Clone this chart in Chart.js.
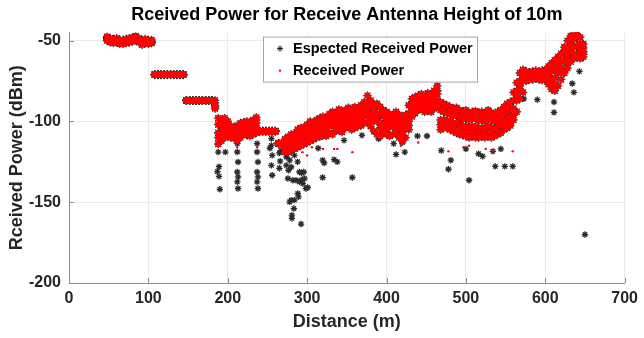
<!DOCTYPE html>
<html>
<head>
<meta charset="utf-8">
<script src="https://cdn.jsdelivr.net/npm/chart.js@4"></script>
<style>
  html, body { margin: 0; padding: 0; background: #ffffff; }
  #wrap { width: 644px; height: 338px; }
</style>
</head>
<body>
<div id="wrap"><canvas id="c" width="644" height="338"></canvas></div>
<script>
// ---------------- DATA ----------------
const chartTitle = 'Rceived Power for Receive Antenna Height of 10m';
const xTitle = 'Distance (m)';
const yTitle = 'Rceived Power (dBm)';
const seriesNames = ['Espected Received Power', 'Received Power'];
const xTickValues = [0, 100, 200, 300, 400, 500, 600, 700];
const yTickValues = [-200, -150, -100, -50];

// measurement distances (m) of the dense band
const dist = [
  48,52,56,60,64,68,72,76,80,84,
  88,92,96,100,104,108,112,116,120,124,
  128,132,136,140,144,148,152,156,160,164,
  168,172,176,180,184,188,192,196,200,204,
  208,212,216,220,224,228,232,236,240,244,
  248,252,256,260,264,268,272,276,280,284,
  288,292,296,300,304,308,312,316,320,324,
  328,332,336,340,344,348,352,356,360,364,
  368,372,376,380,384,388,392,396,400,404,
  408,412,416,420,424,428,432,436,440,444,
  448,452,456,460,464,468,472,476,480,484,
  488,492,496,500,504,508,512,516,520,524,
  528,532,536,540,544,548,552,556,560,564,
  568,572,576,580,584,588,592,596,600,604,
  608,612,616,620,624,628,632,636,640,644,
  648
];
// band samples (dBm), read across the band at each distance
const bandA = [
  -47.5,-48.5,-49,-48.5,-49.5,-49.5,-49,-48.5,-48,-47,
  -48.5,-50,-49,-49.5,-49.5,-70.8,-70.8,-70.8,-70.8,-70.8,
  -70.8,-70.8,-70.8,-70.8,-70.8,-86.8,-86.8,-86.8,-86.8,-86.8,
  -86.8,-86.8,-86.8,-86.8,-87,-98,-99.5,-98,-100,-103,
  -104,-102.5,-101,-100.5,-100,-100.5,-99,-97.5,-105.8,-105.8,
  -105.8,-105.8,-105.8,-105.8,-113.3,-113.3,-111,-109.5,-108,-107.5,
  -105,-104,-103.5,-102,-100,-101,-99,-98,-97,-98,
  -95.5,-94,-95,-92.5,-94,-93,-91.5,-93,-91,-92,
  -90,-88,-84,-87,-90,-89,-91,-93,-94,-95.5,
  -96,-94,-96,-97.5,-96,-90,-86,-85,-84,-83,
  -85,-82.5,-84,-81,-78,-88,-89,-90,-91,-92,
  -91.5,-93,-94,-93,-95,-94,-93.5,-95,-94,-95,
  -93,-94.5,-96,-94,-93,-91,-89,-88,-82,-76,
  -70,-68,-69,-69.5,-69,-68.5,-69,-68.5,-68,-66,
  -64,-62,-62,-58,-54,-50,-47,-45,-44,-48,
  -52
];
const bandB = [
  -48.5,-49.5,-50,-49.5,-50.5,-50.5,-50,-49.5,-49,-48,
  -49.5,-51,-50,-50.5,-50.5,-71,-71,-71,-71,-71,
  -71,-71,-71,-71,-71,-87,-87,-87,-87,-87,
  -87,-87,-87,-87,-88.5,-102,-103,-101.5,-103,-105,
  -106,-105,-103.5,-103,-102.5,-103,-102,-101,-106,-106,
  -106,-106,-106,-106,-113.6,-113.6,-113.5,-112.5,-111,-110,
  -108.5,-107,-106.5,-105.5,-104,-104.5,-103,-101.5,-101,-100.5,
  -99,-98,-98.5,-97,-97.5,-96,-95.5,-96.5,-95,-95.5,
  -94,-92,-89,-91,-94,-95,-96,-97,-98,-99,
  -99.5,-98,-100,-101,-100,-95,-89,-88,-87,-86.5,
  -88,-86,-87,-85,-83,-93,-94,-95,-95.5,-96.5,
  -96,-97.5,-98.5,-98,-99,-98.5,-98,-99.5,-99,-100,
  -98,-99,-100,-99,-97.5,-95,-93.5,-92,-87,-81,
  -75,-71,-71,-71,-70.5,-70.5,-71,-70.5,-70,-70,
  -69,-67,-65,-62,-58,-55,-52,-49,-48,-52,
  -54.5
];
const bandC = [
  -49,-50,-50.5,-50,-51,-51,-50.5,-50,-49.5,-48.5,
  -50,-51.5,-50.5,-51,-51,-71,-71,-71,-71,-71,
  -71,-71,-71,-71,-71,-87,-87,-87,-87,-87,
  -87,-87,-87,-87,-90,-107,-106,-105,-106.5,-107.5,
  -108,-108,-106,-105.5,-105,-106,-105,-104,-106,-106,
  -106,-106,-106,-106,-113.6,-113.6,-116,-115.5,-114.5,-113.5,
  -112,-111,-110,-109,-108,-107.5,-106.5,-105,-104.5,-104,
  -103,-102,-101.5,-100.5,-101,-100,-99,-100.5,-99,-99.5,
  -98,-97,-95,-96,-99,-100,-101,-101.5,-102,-103,
  -103.5,-102,-104,-105,-104,-100,-93,-91.5,-90,-89.5,
  -91,-89,-90.5,-88.5,-87,-99,-99,-99.5,-100,-101,
  -101,-102,-103,-103,-104,-103,-103.5,-104,-104,-104.5,
  -103,-104,-104.5,-103.5,-102,-100,-98.5,-97,-92,-87,
  -80,-75,-72.5,-72,-72,-71.5,-72,-72,-71.5,-73,
  -74,-73,-70,-67,-63,-60,-57,-54,-53,-56,
  -57
];
const bandD = [
  -50,-51,-51.5,-51,-52,-52,-51.5,-51,-50.5,-49.5,
  -51,-52.5,-51.5,-52,-51.5,-71.2,-71.2,-71.2,-71.2,-71.2,
  -71.2,-71.2,-71.2,-71.2,-71.2,-87.2,-87.2,-87.2,-87.2,-87.2,
  -87.2,-87.2,-87.2,-87.2,-92,-114,-112,-110,-109,-110,
  -110.5,-112,-110,-108,-108.5,-109,-108,-107,-106.2,-106.2,
  -106.2,-106.2,-106.2,-106.2,-114,-114,-119,-119,-118,-117,
  -116,-115,-114,-113,-112,-111,-110,-109.5,-108,-109,
  -107,-108,-106,-105,-106.5,-104,-103,-105,-104,-103,
  -102.5,-101,-101,-103,-106,-108,-109,-107,-108,-109,
  -108,-107,-110,-112,-110,-105,-97,-95,-93,-92,
  -94,-93,-94,-92,-91,-105,-104,-104,-105,-106,
  -107,-108,-108.5,-109,-110,-109,-110,-110,-109,-110,
  -109,-110,-109,-108,-107,-105,-104,-102.5,-99,-94,
  -86,-82,-75,-74,-74,-73.5,-74,-74.5,-74,-77,
  -80,-81,-78,-74,-70,-67,-63,-61,-60,-61,
  -60
];
const bandE = [
  -48,-49,-50.5,-50.5,-50,-51.5,-50,-50.5,-48.5,-49,
  -49,-51,-51,-50,-51,-71,-71,-71,-71,-71,
  -71,-71,-71,-71,-71,-87,-87,-87,-87,-87,
  -87,-87,-87,-87,-91,-110,-100.5,-107.5,-101.5,-104,
  -109,-103.5,-108,-101.5,-106.5,-101.5,-106.5,-99,-106,-106,
  -106,-106,-106,-106,-113.6,-113.6,-117.5,-110.5,-116,-109,
  -114,-105.5,-112,-103.5,-110,-102.5,-108,-103,-106.5,-102,
  -101,-96,-104,-99,-103,-98,-101,-98.5,-101.5,-97.5,
  -100,-94.5,-92,-99,-92,-97,-104,-95,-105,-97,
  -101.5,-104.5,-98,-108,-98,-102.5,-95,-89.5,-92,-88,
  -86.5,-91,-85.5,-90.5,-81,-102,-91.5,-102,-93,-103.5,
  -94,-105,-96,-106,-97,-106,-95.5,-107,-96.5,-107.5,
  -96,-107,-98,-106,-100,-102.5,-91,-100,-96,-84,
  -78,-73,-70,-73,-69.5,-72.5,-70,-73.5,-69,-74,
  -66,-77,-60,-70,-56,-64,-50,-58,-46,-57,
  -58.5
];
// expected-power points that fall away from the band
const expOutDist = [
  188,188,189,187,189,190,197,
  212,212,213,212,213,212,213,
  237,237,238,237,238,237,238,
  255,255,256,255,256,253,
  265,266,265,267,
  273.7,276.6,279.9,275.8,282,286,290.3,292.4,294.5,296.6,293,295.7,290.3,298.6,300.7,
  288.2,289.1,284.1,279.9,277.9,283.3,280.8,280.8,292.4,
  274,278,284,288,
  314,319.5,321.5,319.5,334,338,356.9,346.5,369,390,409,412,420,423,439,451,
  469,478,481,500,504,516,521,534,537,544,549,559,
  573,590,611,611,634,636,643,650
];
const expOutPower = [
  -113.7,-119,-128,-131,-134,-142,-119,
  -113.7,-118.9,-125.1,-131.3,-134.3,-137.4,-141.5,
  -113.7,-118.9,-125.1,-131.3,-134.3,-137.4,-141.5,
  -110.6,-114.8,-121,-127.2,-133.3,-116.6,
  -119.5,-124.6,-129,-118,
  -127.2,-130.2,-128.2,-135.3,-136.4,-136.4,-137.4,-136.4,-138.4,-135.3,-131.9,-131.3,-131.3,-141.5,-140.9,
  -144.6,-146.7,-148.7,-148.7,-149.8,-153.9,-158,-160,-163.5,
  -122,-124,-121,-125,
  -116.6,-124,-125.7,-134.7,-123.6,-125,-134.7,-111.7,-108.6,-110.7,-113.7,-120.4,-113,-119,-109,-109,
  -118,-129.6,-124,-117,-136.4,-120,-121.6,-118.5,-127.8,-117,-127.8,-127.8,
  -86,-86.5,-88,-94.4,-76.5,-82,-69,-170
];
// received-power points that fall away from the band
const recOutDist = [190,212,237,275,281,287,294,300,306,320,334,338,357,418,440,478,497,504,525,534,559];
const recOutPower = [-115,-116,-116,-119,-119.5,-118,-119,-121,-116,-117,-117,-117,-119,-115,-113,-118.5,-116,-115,-117,-118,-118.5];

// ---------------- BUILD ----------------
const FONT = "'Liberation Sans', Arial, Helvetica, sans-serif";
Chart.defaults.font.family = FONT;
Chart.defaults.color = '#262626';

const band = [bandA, bandB, bandC, bandD, bandE];
const bandPts = [];
band.forEach(arr => dist.forEach((d, i) => bandPts.push({ x: d, y: arr[i] })));
const expPts = bandPts.concat(expOutDist.map((d, i) => ({ x: d, y: expOutPower[i] })));
const recPts = bandPts.concat(recOutDist.map((d, i) => ({ x: d, y: recOutPower[i] })));
const nBand = bandPts.length;

const insideTicks = {
  id: 'insideTicks',
  afterDatasetsDraw(chart) {
    const { ctx, chartArea: a, scales: { x, y } } = chart;
    ctx.save();
    ctx.strokeStyle = '#8c8c8c';
    ctx.lineWidth = 1;
    ctx.beginPath();
    xTickValues.forEach(v => {
      const px = Math.round(x.getPixelForValue(v)) + 0.5;
      ctx.moveTo(px, a.bottom); ctx.lineTo(px, a.bottom - 5);
    });
    yTickValues.forEach(v => {
      const py = Math.round(y.getPixelForValue(v)) + 0.5;
      ctx.moveTo(a.left, py); ctx.lineTo(a.left + 5, py);
    });
    ctx.stroke();
    ctx.restore();
  }
};

const boxLegend = {
  id: 'boxLegend',
  afterDraw(chart) {
    const { ctx, chartArea: a } = chart;
    const x0 = a.left + 194, y0 = a.top + 4, w = 214, h = 45;
    ctx.save();
    ctx.fillStyle = '#ffffff';
    ctx.fillRect(x0, y0, w, h);
    ctx.strokeStyle = '#a6a6a6';
    ctx.lineWidth = 1;
    ctx.strokeRect(x0 + 0.5, y0 + 0.5, w, h);
    const sx = x0 + 17, sy = y0 + 12, r = 3;
    ctx.strokeStyle = '#1a1a1a';
    ctx.lineWidth = 1;
    ctx.beginPath();
    ctx.moveTo(sx - r, sy); ctx.lineTo(sx + r, sy);
    ctx.moveTo(sx, sy - r); ctx.lineTo(sx, sy + r);
    const q = r * 0.7071;
    ctx.moveTo(sx - q, sy - q); ctx.lineTo(sx + q, sy + q);
    ctx.moveTo(sx - q, sy + q); ctx.lineTo(sx + q, sy - q);
    ctx.stroke();
    ctx.fillStyle = '#ff0000';
    ctx.beginPath();
    ctx.arc(x0 + 17, y0 + 34, 1.2, 0, Math.PI * 2);
    ctx.fill();
    ctx.fillStyle = '#000000';
    ctx.font = 'bold 14.5px ' + FONT;
    ctx.textBaseline = 'middle';
    ctx.textAlign = 'left';
    ctx.fillText(chart.data.datasets[0].label, x0 + 30, y0 + 12);
    ctx.fillText(chart.data.datasets[1].label, x0 + 30, y0 + 34);
    ctx.restore();
  }
};

new Chart(document.getElementById('c'), {
  type: 'scatter',
  data: {
    datasets: [
      {
        label: seriesNames[0],
        data: expPts,
        pointStyle: 'star',
        pointRadius: ctx => (ctx.dataIndex < nBand ? 4.2 : 3.2),
        borderColor: '#2b2b2b',
        backgroundColor: '#2b2b2b',
        pointBorderWidth: 1.3,
        order: 2
      },
      {
        label: seriesNames[1],
        data: recPts,
        pointStyle: 'circle',
        pointRadius: ctx => (ctx.dataIndex < nBand ? 3.1 : 1.2),
        backgroundColor: '#ff0000',
        borderColor: '#ff0000',
        pointBorderWidth: 0,
        order: 1
      }
    ]
  },
  options: {
    responsive: false,
    animation: false,
    devicePixelRatio: 1,
    layout: { padding: { left: 0, right: 14, top: 0, bottom: 0 } },
    plugins: {
      legend: { display: false },
      tooltip: { enabled: false },
      title: {
        display: true,
        text: chartTitle,
        fullSize: false,
        color: '#000000',
        font: { size: 18, weight: 'bold' },
        padding: { top: 4, bottom: 7 }
      }
    },
    scales: {
      x: {
        type: 'linear',
        min: 0, max: 700,
        afterBuildTicks: s => { s.ticks = xTickValues.map(v => ({ value: v })); },
        afterFit: s => { s.height = 55; },
        grid: { color: '#ebebeb', drawTicks: false },
        border: { color: '#8c8c8c', width: 1 },
        ticks: { padding: 6, color: '#262626', font: { size: 16, weight: 'bold' } },
        title: { display: true, text: xTitle, color: '#262626', font: { size: 18, weight: 'bold' }, padding: { top: 0, bottom: 5 } }
      },
      y: {
        type: 'linear',
        min: -200, max: -45,
        afterBuildTicks: s => { s.ticks = yTickValues.map(v => ({ value: v })); },
        afterFit: s => { s.width = 69; },
        grid: { color: '#ebebeb', drawTicks: false },
        border: { color: '#8c8c8c', width: 1 },
        ticks: { padding: 8, color: '#262626', font: { size: 16, weight: 'bold' } },
        title: { display: true, text: yTitle, color: '#262626', font: { size: 18, weight: 'bold' }, padding: { top: 6, bottom: 0 } }
      }
    }
  },
  plugins: [insideTicks, boxLegend]
});
</script>
</body>
</html>
